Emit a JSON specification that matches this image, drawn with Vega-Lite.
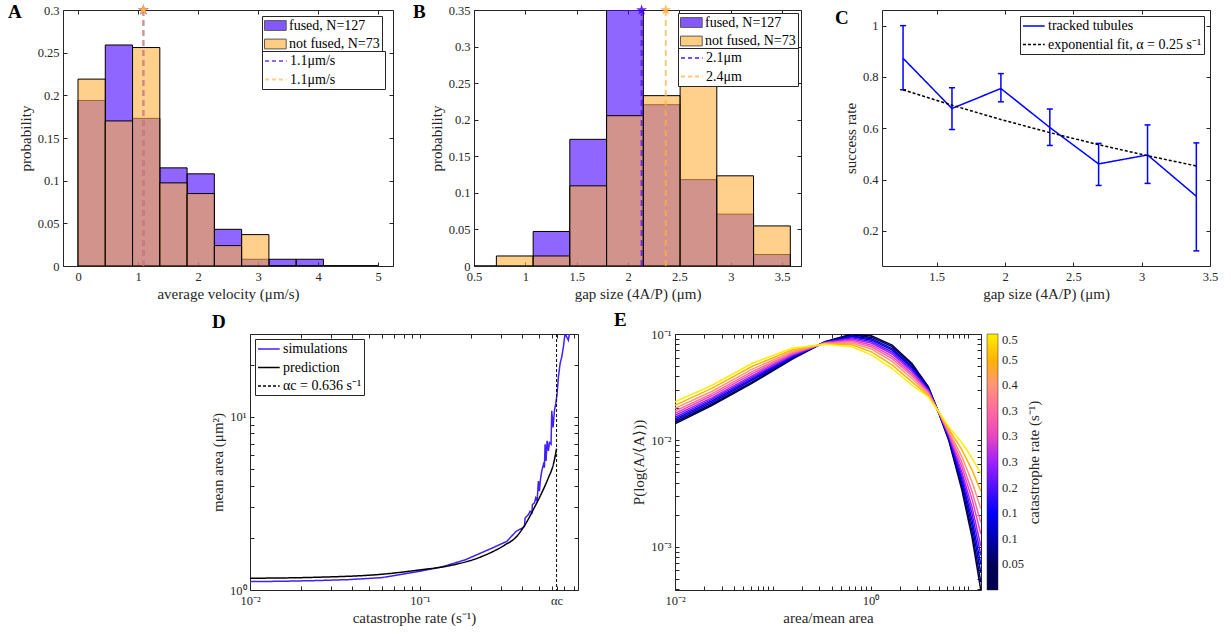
{
  "$schema": "https://vega.github.io/schema/vega-lite/v6.json",
  "padding": {"left": 7, "top": 2, "right": 0, "bottom": 0},
  "config": {
    "font": "Liberation Serif",
    "view": {"stroke": "#262626", "strokeWidth": 1},
    "axis": {"labelFont": "Liberation Serif", "labelFontSize": 12.5, "labelColor": "#262626", "titleFont": "Liberation Serif", "titleFontSize": 15, "titleFontWeight": "normal", "titleColor": "#262626", "domain": false, "tickColor": "#262626", "tickSize": -4, "labelPadding": 8, "grid": false, "labelFlush": false, "labelOverlap": false, "titlePadding": 4, "format": "~g"},
    "legend": {"labelFont": "Liberation Serif", "labelFontSize": 14, "labelColor": "black", "titleFont": "Liberation Serif"},
    "title": {"font": "Liberation Serif", "fontSize": 19, "fontWeight": "bold", "anchor": "start", "frame": "group", "offset": 0, "color": "black", "baseline": "alphabetic"}
  },
  "datasets": {
    "histA": [
      {"item": "fused, N=127", "x0": 0, "x1": 0.4545, "p": 0.194},
      {"item": "fused, N=127", "x0": 0.4545, "x1": 0.9091, "p": 0.259},
      {"item": "fused, N=127", "x0": 0.9091, "x1": 1.3636, "p": 0.173},
      {"item": "fused, N=127", "x0": 1.3636, "x1": 1.8182, "p": 0.115},
      {"item": "fused, N=127", "x0": 1.8182, "x1": 2.2727, "p": 0.108},
      {"item": "fused, N=127", "x0": 2.2727, "x1": 2.7273, "p": 0.043},
      {"item": "fused, N=127", "x0": 2.7273, "x1": 3.1818, "p": 0.0079},
      {"item": "fused, N=127", "x0": 3.1818, "x1": 3.6364, "p": 0.0079},
      {"item": "fused, N=127", "x0": 3.6364, "x1": 4.0909, "p": 0.0079},
      {"item": "fused, N=127", "x0": 4.0909, "x1": 4.5455, "p": 0},
      {"item": "fused, N=127", "x0": 4.5455, "x1": 5.0, "p": 0},
      {"item": "not fused, N=73", "x0": 0, "x1": 0.4545, "p": 0.219},
      {"item": "not fused, N=73", "x0": 0.4545, "x1": 0.9091, "p": 0.170},
      {"item": "not fused, N=73", "x0": 0.9091, "x1": 1.3636, "p": 0.256},
      {"item": "not fused, N=73", "x0": 1.3636, "x1": 1.8182, "p": 0.0974},
      {"item": "not fused, N=73", "x0": 1.8182, "x1": 2.2727, "p": 0.0849},
      {"item": "not fused, N=73", "x0": 2.2727, "x1": 2.7273, "p": 0.0239},
      {"item": "not fused, N=73", "x0": 2.7273, "x1": 3.1818, "p": 0.0368},
      {"item": "not fused, N=73", "x0": 3.1818, "x1": 3.6364, "p": 0},
      {"item": "not fused, N=73", "x0": 3.6364, "x1": 4.0909, "p": 0},
      {"item": "not fused, N=73", "x0": 4.0909, "x1": 4.5455, "p": 0},
      {"item": "not fused, N=73", "x0": 4.5455, "x1": 5.0, "p": 0}
    ],
    "lineA": [
      {"item": "1.1μm/s\u2800 \u2800\u2800 \u2800", "v": 1.09},
      {"item": "1.1μm/s\u2800 \u2800\u2800 \u2800\u200b", "v": 1.09}
    ],
    "histB": [
      {"item": "fused, N=127", "x0": 0.36, "x1": 0.718, "p": 0},
      {"item": "fused, N=127", "x0": 0.718, "x1": 1.076, "p": 0},
      {"item": "fused, N=127", "x0": 1.076, "x1": 1.433, "p": 0.0472},
      {"item": "fused, N=127", "x0": 1.433, "x1": 1.791, "p": 0.1732},
      {"item": "fused, N=127", "x0": 1.791, "x1": 2.149, "p": 0.354},
      {"item": "fused, N=127", "x0": 2.149, "x1": 2.507, "p": 0.2205},
      {"item": "fused, N=127", "x0": 2.507, "x1": 2.864, "p": 0.1181},
      {"item": "fused, N=127", "x0": 2.864, "x1": 3.222, "p": 0.0709},
      {"item": "fused, N=127", "x0": 3.222, "x1": 3.58, "p": 0.0157},
      {"item": "not fused, N=73", "x0": 0.718, "x1": 1.076, "p": 0.0137},
      {"item": "not fused, N=73", "x0": 1.076, "x1": 1.433, "p": 0.0137},
      {"item": "not fused, N=73", "x0": 1.433, "x1": 1.791, "p": 0.1096},
      {"item": "not fused, N=73", "x0": 1.791, "x1": 2.149, "p": 0.2055},
      {"item": "not fused, N=73", "x0": 2.149, "x1": 2.507, "p": 0.2329},
      {"item": "not fused, N=73", "x0": 2.507, "x1": 2.864, "p": 0.2466},
      {"item": "not fused, N=73", "x0": 2.864, "x1": 3.222, "p": 0.1233},
      {"item": "not fused, N=73", "x0": 3.222, "x1": 3.58, "p": 0.0548}
    ],
    "lineB": [
      {"item": "2.1μm\u2800\u2800 \u2800\u2800\u2800", "v": 2.132},
      {"item": "2.4μm\u2800\u2800 \u2800\u2800\u2800", "v": 2.367}
    ],
    "trackC": [
      {"series": "tracked tubules", "x": 1.254, "y": 0.873, "lo": 0.750, "hi": 1.000},
      {"series": "tracked tubules", "x": 1.612, "y": 0.677, "lo": 0.595, "hi": 0.758},
      {"series": "tracked tubules", "x": 1.970, "y": 0.755, "lo": 0.703, "hi": 0.813},
      {"series": "tracked tubules", "x": 2.328, "y": 0.603, "lo": 0.533, "hi": 0.675},
      {"series": "tracked tubules", "x": 2.685, "y": 0.461, "lo": 0.377, "hi": 0.541},
      {"series": "tracked tubules", "x": 3.043, "y": 0.496, "lo": 0.385, "hi": 0.613},
      {"series": "tracked tubules", "x": 3.400, "y": 0.335, "lo": 0.122, "hi": 0.543}
    ],
    "fitC": [
      {"series": "exponential fit, α = 0.25 s⁻¹", "x": 1.254, "y": 0.750},
      {"series": "exponential fit, α = 0.25 s⁻¹", "x": 1.612, "y": 0.690},
      {"series": "exponential fit, α = 0.25 s⁻¹", "x": 1.970, "y": 0.634},
      {"series": "exponential fit, α = 0.25 s⁻¹", "x": 2.328, "y": 0.583},
      {"series": "exponential fit, α = 0.25 s⁻¹", "x": 2.685, "y": 0.536},
      {"series": "exponential fit, α = 0.25 s⁻¹", "x": 3.043, "y": 0.493},
      {"series": "exponential fit, α = 0.25 s⁻¹", "x": 3.400, "y": 0.453}
    ],
    "simD": [
      {"series": "simulations", "x": 0.01, "y": 1.118},
      {"series": "simulations", "x": 0.01549, "y": 1.123},
      {"series": "simulations", "x": 0.02429, "y": 1.133},
      {"series": "simulations", "x": 0.03814, "y": 1.148},
      {"series": "simulations", "x": 0.05981, "y": 1.179},
      {"series": "simulations", "x": 0.1, "y": 1.283},
      {"series": "simulations", "x": 0.1346, "y": 1.36},
      {"series": "simulations", "x": 0.1845, "y": 1.493},
      {"series": "simulations", "x": 0.2708, "y": 1.76},
      {"series": "simulations", "x": 0.3241, "y": 1.908},
      {"series": "simulations", "x": 0.3678, "y": 2.181},
      {"series": "simulations", "x": 0.4006, "y": 2.279},
      {"series": "simulations", "x": 0.4116, "y": 2.33},
      {"series": "simulations", "x": 0.4153, "y": 2.606},
      {"series": "simulations", "x": 0.4248, "y": 2.665},
      {"series": "simulations", "x": 0.4345, "y": 2.724},
      {"series": "simulations", "x": 0.4444, "y": 2.848},
      {"series": "simulations", "x": 0.4545, "y": 2.785},
      {"series": "simulations", "x": 0.4586, "y": 3.112},
      {"series": "simulations", "x": 0.4712, "y": 3.183},
      {"series": "simulations", "x": 0.4797, "y": 3.403},
      {"series": "simulations", "x": 0.4885, "y": 3.254},
      {"series": "simulations", "x": 0.4974, "y": 4.253},
      {"series": "simulations", "x": 0.5042, "y": 3.721},
      {"series": "simulations", "x": 0.5111, "y": 4.348},
      {"series": "simulations", "x": 0.5204, "y": 4.861},
      {"series": "simulations", "x": 0.5321, "y": 5.313},
      {"series": "simulations", "x": 0.5394, "y": 5.081},
      {"series": "simulations", "x": 0.5443, "y": 6.94},
      {"series": "simulations", "x": 0.5517, "y": 5.556},
      {"series": "simulations", "x": 0.5592, "y": 7.256},
      {"series": "simulations", "x": 0.5694, "y": 6.349},
      {"series": "simulations", "x": 0.5772, "y": 7.098},
      {"series": "simulations", "x": 0.5902, "y": 6.94},
      {"series": "simulations", "x": 0.5957, "y": 10.83},
      {"series": "simulations", "x": 0.6065, "y": 8.673},
      {"series": "simulations", "x": 0.6175, "y": 10.83},
      {"series": "simulations", "x": 0.6287, "y": 11.85},
      {"series": "simulations", "x": 0.6402, "y": 13.54},
      {"series": "simulations", "x": 0.6518, "y": 16.91},
      {"series": "simulations", "x": 0.6667, "y": 20.21},
      {"series": "simulations", "x": 0.6819, "y": 22.1},
      {"series": "simulations", "x": 0.6973, "y": 25.26},
      {"series": "simulations", "x": 0.7132, "y": 30.17},
      {"series": "simulations", "x": 0.7461, "y": 27.6},
      {"series": "simulations", "x": 0.7632, "y": 31.6},
      {"series": "simulations", "x": 0.7986, "y": 39.4}
    ],
    "predD": [
      {"series": "prediction", "x": 0.01, "y": 1.169},
      {"series": "prediction", "x": 0.02429, "y": 1.184},
      {"series": "prediction", "x": 0.0598, "y": 1.233},
      {"series": "prediction", "x": 0.1, "y": 1.306},
      {"series": "prediction", "x": 0.1474, "y": 1.378},
      {"series": "prediction", "x": 0.2312, "y": 1.561},
      {"series": "prediction", "x": 0.317, "y": 1.824},
      {"series": "prediction", "x": 0.3628, "y": 1.994},
      {"series": "prediction", "x": 0.4153, "y": 2.383},
      {"series": "prediction", "x": 0.4754, "y": 3.045},
      {"series": "prediction", "x": 0.5204, "y": 3.638},
      {"series": "prediction", "x": 0.5694, "y": 4.446},
      {"series": "prediction", "x": 0.6091, "y": 5.313},
      {"series": "prediction", "x": 0.636, "y": 6.55}
    ],
    "acD": [
      {"series": "αc = 0.636 s⁻¹", "x": 0.636}
    ],
    "curvesE": [
      {"r": 0.01, "x": 0.01, "p": 0.01435}, {"r": 0.01, "x": 0.024, "p": 0.0214}, {"r": 0.01, "x": 0.061, "p": 0.0343}, {"r": 0.01, "x": 0.157, "p": 0.0577}, {"r": 0.01, "x": 0.34, "p": 0.0846}, {"r": 0.01, "x": 0.645, "p": 0.100}, {"r": 0.01, "x": 1.03, "p": 0.0957}, {"r": 0.01, "x": 1.66, "p": 0.0787}, {"r": 0.01, "x": 2.65, "p": 0.0529}, {"r": 0.01, "x": 3.9, "p": 0.0318}, {"r": 0.01, "x": 5.0, "p": 0.0179}, {"r": 0.01, "x": 6.3, "p": 0.0100}, {"r": 0.01, "x": 8.6, "p": 0.00338}, {"r": 0.01, "x": 10.9, "p": 0.00122}, {"r": 0.01, "x": 13.4, "p": 0.00039},
      {"r": 0.05, "x": 0.01, "p": 0.01483}, {"r": 0.05, "x": 0.024, "p": 0.0220}, {"r": 0.05, "x": 0.061, "p": 0.0353}, {"r": 0.05, "x": 0.157, "p": 0.0586}, {"r": 0.05, "x": 0.34, "p": 0.0841}, {"r": 0.05, "x": 0.645, "p": 0.0981}, {"r": 0.05, "x": 1.03, "p": 0.0929}, {"r": 0.05, "x": 1.66, "p": 0.0760}, {"r": 0.05, "x": 2.65, "p": 0.0512}, {"r": 0.05, "x": 3.9, "p": 0.0313}, {"r": 0.05, "x": 5.0, "p": 0.01795}, {"r": 0.05, "x": 6.3, "p": 0.01021}, {"r": 0.05, "x": 8.6, "p": 0.00363}, {"r": 0.05, "x": 10.9, "p": 0.00138}, {"r": 0.05, "x": 13.4, "p": 0.000466},
      {"r": 0.1, "x": 0.01, "p": 0.0154}, {"r": 0.1, "x": 0.024, "p": 0.0228}, {"r": 0.1, "x": 0.061, "p": 0.0366}, {"r": 0.1, "x": 0.157, "p": 0.0598}, {"r": 0.1, "x": 0.34, "p": 0.0838}, {"r": 0.1, "x": 0.645, "p": 0.0959}, {"r": 0.1, "x": 1.03, "p": 0.0899}, {"r": 0.1, "x": 1.66, "p": 0.0729}, {"r": 0.1, "x": 2.65, "p": 0.0492}, {"r": 0.1, "x": 3.9, "p": 0.0308}, {"r": 0.1, "x": 5.0, "p": 0.0180}, {"r": 0.1, "x": 6.3, "p": 0.01045}, {"r": 0.1, "x": 8.6, "p": 0.00394}, {"r": 0.1, "x": 10.9, "p": 0.00158}, {"r": 0.1, "x": 13.4, "p": 0.00057},
      {"r": 0.15, "x": 0.01, "p": 0.0159}, {"r": 0.15, "x": 0.024, "p": 0.0236}, {"r": 0.15, "x": 0.061, "p": 0.0377}, {"r": 0.15, "x": 0.157, "p": 0.0608}, {"r": 0.15, "x": 0.34, "p": 0.0836}, {"r": 0.15, "x": 0.645, "p": 0.0942}, {"r": 0.15, "x": 1.03, "p": 0.0875}, {"r": 0.15, "x": 1.66, "p": 0.0705}, {"r": 0.15, "x": 2.65, "p": 0.0476}, {"r": 0.15, "x": 3.9, "p": 0.0303}, {"r": 0.15, "x": 5.0, "p": 0.0180}, {"r": 0.15, "x": 6.3, "p": 0.01067}, {"r": 0.15, "x": 8.6, "p": 0.00425}, {"r": 0.15, "x": 10.9, "p": 0.00178}, {"r": 0.15, "x": 13.4, "p": 0.000681},
      {"r": 0.2, "x": 0.01, "p": 0.0165}, {"r": 0.2, "x": 0.024, "p": 0.0244}, {"r": 0.2, "x": 0.061, "p": 0.0390}, {"r": 0.2, "x": 0.157, "p": 0.0619}, {"r": 0.2, "x": 0.34, "p": 0.0832}, {"r": 0.2, "x": 0.645, "p": 0.0920}, {"r": 0.2, "x": 1.03, "p": 0.0845}, {"r": 0.2, "x": 1.66, "p": 0.0676}, {"r": 0.2, "x": 2.65, "p": 0.0459}, {"r": 0.2, "x": 3.9, "p": 0.0298}, {"r": 0.2, "x": 5.0, "p": 0.0181}, {"r": 0.2, "x": 6.3, "p": 0.0109}, {"r": 0.2, "x": 8.6, "p": 0.00461}, {"r": 0.2, "x": 10.9, "p": 0.00204}, {"r": 0.2, "x": 13.4, "p": 0.000834},
      {"r": 0.25, "x": 0.01, "p": 0.0172}, {"r": 0.25, "x": 0.024, "p": 0.0252}, {"r": 0.25, "x": 0.061, "p": 0.0404}, {"r": 0.25, "x": 0.157, "p": 0.0632}, {"r": 0.25, "x": 0.34, "p": 0.0828}, {"r": 0.25, "x": 0.645, "p": 0.0899}, {"r": 0.25, "x": 1.03, "p": 0.0818}, {"r": 0.25, "x": 1.66, "p": 0.0649}, {"r": 0.25, "x": 2.65, "p": 0.0442}, {"r": 0.25, "x": 3.9, "p": 0.0292}, {"r": 0.25, "x": 5.0, "p": 0.0181}, {"r": 0.25, "x": 6.3, "p": 0.0112}, {"r": 0.25, "x": 8.6, "p": 0.00501}, {"r": 0.25, "x": 10.9, "p": 0.00234}, {"r": 0.25, "x": 13.4, "p": 0.00102},
      {"r": 0.3, "x": 0.01, "p": 0.0180}, {"r": 0.3, "x": 0.024, "p": 0.0264}, {"r": 0.3, "x": 0.061, "p": 0.0422}, {"r": 0.3, "x": 0.157, "p": 0.0647}, {"r": 0.3, "x": 0.34, "p": 0.0822}, {"r": 0.3, "x": 0.645, "p": 0.0875}, {"r": 0.3, "x": 1.03, "p": 0.0785}, {"r": 0.3, "x": 1.66, "p": 0.0617}, {"r": 0.3, "x": 2.65, "p": 0.0422}, {"r": 0.3, "x": 3.9, "p": 0.0286}, {"r": 0.3, "x": 5.0, "p": 0.0182}, {"r": 0.3, "x": 6.3, "p": 0.0115}, {"r": 0.3, "x": 8.6, "p": 0.00556}, {"r": 0.3, "x": 10.9, "p": 0.00279}, {"r": 0.3, "x": 13.4, "p": 0.00132},
      {"r": 0.35, "x": 0.01, "p": 0.0189}, {"r": 0.35, "x": 0.024, "p": 0.0275}, {"r": 0.35, "x": 0.061, "p": 0.0441}, {"r": 0.35, "x": 0.157, "p": 0.0662}, {"r": 0.35, "x": 0.34, "p": 0.0818}, {"r": 0.35, "x": 0.645, "p": 0.0851}, {"r": 0.35, "x": 1.03, "p": 0.0754}, {"r": 0.35, "x": 1.66, "p": 0.0586}, {"r": 0.35, "x": 2.65, "p": 0.0403}, {"r": 0.35, "x": 3.9, "p": 0.0280}, {"r": 0.35, "x": 5.0, "p": 0.0182}, {"r": 0.35, "x": 6.3, "p": 0.0119}, {"r": 0.35, "x": 8.6, "p": 0.00615}, {"r": 0.35, "x": 10.9, "p": 0.00330}, {"r": 0.35, "x": 13.4, "p": 0.00169},
      {"r": 0.4, "x": 0.01, "p": 0.0200}, {"r": 0.4, "x": 0.024, "p": 0.0290}, {"r": 0.4, "x": 0.061, "p": 0.0465}, {"r": 0.4, "x": 0.157, "p": 0.0682}, {"r": 0.4, "x": 0.34, "p": 0.0813}, {"r": 0.4, "x": 0.645, "p": 0.0824}, {"r": 0.4, "x": 1.03, "p": 0.0718}, {"r": 0.4, "x": 1.66, "p": 0.0552}, {"r": 0.4, "x": 2.65, "p": 0.0380}, {"r": 0.4, "x": 3.9, "p": 0.0273}, {"r": 0.4, "x": 5.0, "p": 0.0183}, {"r": 0.4, "x": 6.3, "p": 0.0123}, {"r": 0.4, "x": 8.6, "p": 0.00697}, {"r": 0.4, "x": 10.9, "p": 0.00406}, {"r": 0.4, "x": 13.4, "p": 0.00229},
      {"r": 0.45, "x": 0.01, "p": 0.0214}, {"r": 0.45, "x": 0.024, "p": 0.0310}, {"r": 0.45, "x": 0.061, "p": 0.0495}, {"r": 0.45, "x": 0.157, "p": 0.0706}, {"r": 0.45, "x": 0.34, "p": 0.0807}, {"r": 0.45, "x": 0.645, "p": 0.0791}, {"r": 0.45, "x": 1.03, "p": 0.0675}, {"r": 0.45, "x": 1.66, "p": 0.0512}, {"r": 0.45, "x": 2.65, "p": 0.0355}, {"r": 0.45, "x": 3.9, "p": 0.0264}, {"r": 0.45, "x": 5.0, "p": 0.0184}, {"r": 0.45, "x": 6.3, "p": 0.0128}, {"r": 0.45, "x": 8.6, "p": 0.00815}, {"r": 0.45, "x": 10.9, "p": 0.00526}, {"r": 0.45, "x": 13.4, "p": 0.00335},
      {"r": 0.5, "x": 0.01, "p": 0.0230}, {"r": 0.5, "x": 0.024, "p": 0.0330}, {"r": 0.5, "x": 0.061, "p": 0.0528}, {"r": 0.5, "x": 0.157, "p": 0.0733}, {"r": 0.5, "x": 0.34, "p": 0.0800}, {"r": 0.5, "x": 0.645, "p": 0.0759}, {"r": 0.5, "x": 1.03, "p": 0.0634}, {"r": 0.5, "x": 1.66, "p": 0.0474}, {"r": 0.5, "x": 2.65, "p": 0.0330}, {"r": 0.5, "x": 3.9, "p": 0.0256}, {"r": 0.5, "x": 5.0, "p": 0.0185}, {"r": 0.5, "x": 6.3, "p": 0.0134}, {"r": 0.5, "x": 8.6, "p": 0.0095}, {"r": 0.5, "x": 10.9, "p": 0.0068}, {"r": 0.5, "x": 13.4, "p": 0.0049}
    ]
  },
  "bounds": "full",
  "spacing": 8,
  "resolve": {"scale": {"color": "independent", "fill": "independent", "stroke": "independent", "strokeDash": "independent"}, "legend": {"color": "independent", "fill": "independent", "stroke": "independent", "strokeDash": "independent"}},
  "vconcat": [
    {
      "bounds": "flush",
      "spacing": 81,
      "resolve": {"scale": {"color": "independent", "fill": "independent", "stroke": "independent", "strokeDash": "independent"}, "legend": {"color": "independent", "fill": "independent", "stroke": "independent", "strokeDash": "independent"}},
      "hconcat": [
        {
          "width": 330, "height": 256,
          "title": {"text": "A", "dx": -55, "dy": 22},
          "resolve": {"axis": {"x": "independent", "y": "independent"}},
          "layer": [
            {
              "data": {"name": "histA"},
              "mark": {"type": "bar", "fillOpacity": 0.6, "stroke": "black", "strokeWidth": 1, "clip": true},
              "encoding": {
                "x": {"field": "x0", "type": "quantitative", "scale": {"domain": [-0.25, 5.25], "nice": false, "zero": false}, "axis": {"title": "average velocity (μm/s)", "values": [0, 1, 2, 3, 4, 5]}},
                "x2": {"field": "x1"},
                "y": {"field": "p", "type": "quantitative", "stack": null, "scale": {"domain": [0, 0.3], "nice": false}, "axis": {"title": "probability", "values": [0, 0.05, 0.1, 0.15, 0.2, 0.25, 0.3]}},
                "y2": {"datum": 0},
                "fill": {
                  "field": "item", "type": "nominal",
                  "scale": {"domain": ["fused, N=127", "not fused, N=73"], "range": ["#4400ff", "#ffb13f"]},
                  "legend": {"orient": "none", "legendX": 199, "legendY": 6, "title": null, "strokeColor": "#262626", "fillColor": "white", "padding": 2, "rowPadding": 3.5, "labelOffset": 10, "symbolSize": 196, "symbolType": "M-1,-0.7H2.1V0.7H-1Z", "symbolStrokeColor": "black", "symbolStrokeWidth": 1, "symbolOpacity": 0.65}
                }
              }
            },
            {
              "data": {"name": "lineA"},
              "mark": {"type": "rule", "strokeDash": [6, 4], "strokeWidth": 2, "opacity": 0.6},
              "encoding": {
                "x": {"field": "v", "type": "quantitative", "axis": null},
                "stroke": {
                  "field": "item", "type": "nominal",
                  "scale": {"range": ["#4400ff", "#ffb13f"]},
                  "legend": {"orient": "none", "legendX": 199, "legendY": 41, "title": null, "strokeColor": "#262626", "fillColor": "white", "padding": 2, "rowPadding": 3.5, "labelOffset": 10, "symbolSize": 196, "symbolType": "M-1,0H2.1", "symbolStrokeWidth": 2, "symbolDash": [4, 3], "symbolOpacity": 0.6}
                }
              }
            },
            {
              "data": {"name": "lineA"},
              "mark": {"type": "point", "shape": "M0,-1L0.2245,-0.309L0.951,-0.309L0.363,0.118L0.588,0.809L0,0.382L-0.588,0.809L-0.363,0.118L-0.951,-0.309L-0.2245,-0.309Z", "filled": true, "size": 130, "opacity": 1, "clip": false},
              "encoding": {
                "x": {"field": "v", "type": "quantitative", "axis": null},
                "y": {"datum": 0.3, "axis": null},
                "color": {"field": "item", "type": "nominal", "scale": {"range": ["#4400ff", "#ffb13f"]}, "legend": null}
              }
            },
            {
              "data": {"values": [{"k": 1}]},
              "mark": {"type": "point", "opacity": 0},
              "encoding": {
                "x": {"datum": 1, "type": "quantitative", "axis": {"orient": "top", "labels": false, "title": null, "values": [0, 1, 2, 3, 4, 5]}},
                "y": {"datum": 0.1, "type": "quantitative", "axis": {"orient": "right", "labels": false, "title": null, "values": [0, 0.05, 0.1, 0.15, 0.2, 0.25, 0.3]}}
              }
            }
          ]
        },
        {
          "width": 327, "height": 256,
          "title": {"text": "B", "dx": -61, "dy": 22},
          "resolve": {"axis": {"x": "independent", "y": "independent"}},
          "layer": [
            {
              "data": {"name": "histB"},
              "mark": {"type": "bar", "fillOpacity": 0.6, "stroke": "black", "strokeWidth": 1, "clip": true},
              "encoding": {
                "x": {"field": "x0", "type": "quantitative", "scale": {"domain": [0.5, 3.684], "nice": false, "zero": false}, "axis": {"title": "gap size (4A/P) (μm)", "values": [0.5, 1, 1.5, 2, 2.5, 3, 3.5]}},
                "x2": {"field": "x1"},
                "y": {"field": "p", "type": "quantitative", "stack": null, "scale": {"domain": [0, 0.35], "nice": false}, "axis": {"title": "probability", "values": [0, 0.05, 0.1, 0.15, 0.2, 0.25, 0.3, 0.35]}},
                "y2": {"datum": 0},
                "fill": {
                  "field": "item", "type": "nominal",
                  "scale": {"domain": ["fused, N=127", "not fused, N=73"], "range": ["#4400ff", "#ffb13f"]},
                  "legend": {"orient": "none", "legendX": 204, "legendY": 3, "title": null, "strokeColor": "#262626", "fillColor": "white", "padding": 2, "rowPadding": 3.5, "labelOffset": 10, "symbolSize": 196, "symbolType": "M-1,-0.7H2.1V0.7H-1Z", "symbolStrokeColor": "black", "symbolStrokeWidth": 1, "symbolOpacity": 0.65}
                }
              }
            },
            {
              "data": {"name": "lineB"},
              "mark": {"type": "rule", "strokeDash": [6, 4], "strokeWidth": 2, "opacity": 0.7},
              "encoding": {
                "x": {"field": "v", "type": "quantitative", "axis": null},
                "stroke": {
                  "field": "item", "type": "nominal",
                  "scale": {"range": ["#4400ff", "#ffb13f"]},
                  "legend": {"orient": "none", "legendX": 204, "legendY": 38, "title": null, "strokeColor": "#262626", "fillColor": "white", "padding": 2, "rowPadding": 3.5, "labelOffset": 10, "symbolSize": 196, "symbolType": "M-1,0H2.1", "symbolStrokeWidth": 2, "symbolDash": [4, 3], "symbolOpacity": 0.7}
                }
              }
            },
            {
              "data": {"name": "lineB"},
              "mark": {"type": "point", "shape": "M0,-1L0.2245,-0.309L0.951,-0.309L0.363,0.118L0.588,0.809L0,0.382L-0.588,0.809L-0.363,0.118L-0.951,-0.309L-0.2245,-0.309Z", "filled": true, "size": 130, "opacity": 0.85, "clip": false},
              "encoding": {
                "x": {"field": "v", "type": "quantitative", "axis": null},
                "y": {"datum": 0.35, "axis": null},
                "color": {"field": "item", "type": "nominal", "scale": {"range": ["#4400ff", "#ffb13f"]}, "legend": null}
              }
            },
            {
              "data": {"values": [{"k": 1}]},
              "mark": {"type": "point", "opacity": 0},
              "encoding": {
                "x": {"datum": 1, "type": "quantitative", "axis": {"orient": "top", "labels": false, "title": null, "values": [0.5, 1, 1.5, 2, 2.5, 3, 3.5]}},
                "y": {"datum": 0.1, "type": "quantitative", "axis": {"orient": "right", "labels": false, "title": null, "values": [0, 0.05, 0.1, 0.15, 0.2, 0.25, 0.3, 0.35]}}
              }
            }
          ]
        },
        {
          "width": 328, "height": 256,
          "title": {"text": "C", "dx": -47, "dy": 22},
          "resolve": {"axis": {"x": "independent", "y": "independent"}},
          "layer": [
            {
              "data": {"name": "trackC"},
              "mark": {"type": "line", "strokeWidth": 1.5},
              "encoding": {
                "x": {"field": "x", "type": "quantitative", "scale": {"domain": [1.1, 3.5], "nice": false, "zero": false}, "axis": {"title": "gap size (4A/P) (μm)", "values": [1.5, 2, 2.5, 3, 3.5]}},
                "y": {"field": "y", "type": "quantitative", "scale": {"domain": [0.063, 1.061], "nice": false, "zero": false}, "axis": {"title": "success rate", "values": [0.2, 0.4, 0.6, 0.8, 1]}},
                "color": {
                  "field": "series", "type": "nominal",
                  "scale": {"domain": ["tracked tubules", "exponential fit, α = 0.25 s⁻¹"], "range": ["#0000ff", "black"]},
                  "legend": {"orient": "top-right", "offset": 6, "title": null, "strokeColor": "#262626", "fillColor": "white", "padding": 2, "rowPadding": 3.5, "labelOffset": 10, "symbolSize": 196, "symbolType": "M-1,0H2.1", "symbolStrokeWidth": 1.5}
                },
                "strokeDash": {"field": "series", "type": "nominal", "scale": {"domain": ["tracked tubules", "exponential fit, α = 0.25 s⁻¹"], "range": [[1, 0], [3, 2]]}}
              }
            },
            {
              "data": {"name": "trackC"},
              "mark": {"type": "rule", "strokeWidth": 1.5, "color": "#0000ff"},
              "encoding": {"x": {"field": "x", "type": "quantitative", "axis": null}, "y": {"field": "lo", "type": "quantitative", "axis": null}, "y2": {"field": "hi"}}
            },
            {
              "data": {"name": "trackC"},
              "mark": {"type": "tick", "orient": "horizontal", "size": 6, "thickness": 1.5, "color": "#0000ff", "opacity": 1},
              "encoding": {"x": {"field": "x", "type": "quantitative", "axis": null}, "y": {"field": "lo", "type": "quantitative", "axis": null}}
            },
            {
              "data": {"name": "trackC"},
              "mark": {"type": "tick", "orient": "horizontal", "size": 6, "thickness": 1.5, "color": "#0000ff", "opacity": 1},
              "encoding": {"x": {"field": "x", "type": "quantitative", "axis": null}, "y": {"field": "hi", "type": "quantitative", "axis": null}}
            },
            {
              "data": {"name": "fitC"},
              "mark": {"type": "line", "strokeWidth": 1.5},
              "encoding": {
                "x": {"field": "x", "type": "quantitative", "axis": null},
                "y": {"field": "y", "type": "quantitative", "axis": null},
                "color": {"field": "series", "type": "nominal"},
                "strokeDash": {"field": "series", "type": "nominal"}
              }
            },
            {
              "data": {"values": [{"k": 1}]},
              "mark": {"type": "point", "opacity": 0},
              "encoding": {
                "x": {"datum": 2, "type": "quantitative", "axis": {"orient": "top", "labels": false, "title": null, "values": [1.5, 2, 2.5, 3, 3.5]}},
                "y": {"datum": 0.5, "type": "quantitative", "axis": {"orient": "right", "labels": false, "title": null, "values": [0.2, 0.4, 0.6, 0.8, 1]}}
              }
            }
          ]
        }
      ]
    },
    {
      "bounds": "flush",
      "spacing": 97,
      "resolve": {"scale": {"color": "independent", "fill": "independent", "stroke": "independent", "strokeDash": "independent"}, "legend": {"color": "independent", "fill": "independent", "stroke": "independent", "strokeDash": "independent"}},
      "hconcat": [
        {
          "width": 90, "height": 256,
          "data": {"values": [{"a": 1}]},
          "mark": {"type": "point", "opacity": 0},
          "view": {"stroke": null}
        },
        {
          "width": 328, "height": 256,
          "title": {"text": "D", "dx": -38, "dy": 8},
          "resolve": {"axis": {"x": "independent", "y": "independent"}},
          "layer": [
            {
              "data": {"name": "simD"},
              "mark": {"type": "line", "strokeWidth": 1.5, "clip": true},
              "encoding": {
                "x": {"field": "x", "type": "quantitative", "scale": {"type": "log", "domain": [0.01, 0.85], "nice": false}, "axis": {"title": "catastrophe rate (s⁻¹)", "values": [0.01, 0.02, 0.03, 0.04, 0.05, 0.06, 0.07, 0.08, 0.09, 0.1, 0.2, 0.3, 0.4, 0.5, 0.6, 0.636, 0.7, 0.8], "labelExpr": "datum.value == 0.01 ? '10⁻²' : datum.value == 0.1 ? '10⁻¹' : datum.value == 0.636 ? 'αc' : ''"}},
                "y": {"field": "y", "type": "quantitative", "scale": {"type": "log", "domain": [1, 30], "nice": false}, "axis": {"title": "mean area (μm²)", "values": [1, 2, 3, 4, 5, 6, 7, 8, 9, 10, 20, 30], "labelExpr": "datum.value == 1 ? '10⁰' : datum.value == 10 ? '10¹' : ''"}},
                "color": {
                  "field": "series", "type": "nominal",
                  "scale": {"domain": ["simulations", "prediction", "αc = 0.636 s⁻¹"], "range": ["#4020ff", "black", "black"]},
                  "legend": {"orient": "top-left", "offset": 5, "title": null, "strokeColor": "#262626", "fillColor": "white", "padding": 2, "rowPadding": 3.5, "labelOffset": 10, "symbolSize": 196, "symbolType": "M-1,0H2.1", "symbolStrokeWidth": 1.5}
                },
                "strokeDash": {"field": "series", "type": "nominal", "scale": {"domain": ["simulations", "prediction", "αc = 0.636 s⁻¹"], "range": [[1, 0], [1, 0], [3, 2]]}}
              }
            },
            {
              "data": {"name": "predD"},
              "mark": {"type": "line", "strokeWidth": 1.5, "interpolate": "monotone", "clip": true},
              "encoding": {
                "x": {"field": "x", "type": "quantitative", "axis": null},
                "y": {"field": "y", "type": "quantitative", "axis": null},
                "color": {"field": "series", "type": "nominal"},
                "strokeDash": {"field": "series", "type": "nominal"}
              }
            },
            {
              "data": {"name": "acD"},
              "mark": {"type": "rule", "strokeWidth": 1},
              "encoding": {
                "x": {"field": "x", "type": "quantitative", "axis": null},
                "color": {"field": "series", "type": "nominal"},
                "strokeDash": {"field": "series", "type": "nominal"}
              }
            },
            {
              "data": {"values": [{"k": 1}]},
              "mark": {"type": "point", "opacity": 0},
              "encoding": {
                "x": {"datum": 0.1, "type": "quantitative", "axis": {"orient": "top", "labels": false, "title": null, "values": [0.01, 0.02, 0.03, 0.04, 0.05, 0.06, 0.07, 0.08, 0.09, 0.1, 0.2, 0.3, 0.4, 0.5, 0.6, 0.636, 0.7, 0.8]}},
                "y": {"datum": 2, "type": "quantitative", "axis": {"orient": "right", "labels": false, "title": null, "values": [1, 2, 3, 4, 5, 6, 7, 8, 9, 10, 20, 30]}}
              }
            }
          ]
        },
        {
          "width": 306, "height": 256,
          "title": {"text": "E", "dx": -61, "dy": 6},
          "resolve": {"axis": {"x": "independent", "y": "independent"}},
          "layer": [
            {
              "data": {"name": "curvesE"},
              "mark": {"type": "line", "strokeWidth": 1.5, "clip": true},
              "encoding": {
                "x": {"field": "x", "type": "quantitative", "scale": {"type": "log", "domain": [0.01, 13.45], "nice": false}, "axis": {"title": "area/mean area", "values": [0.01, 0.02, 0.03, 0.04, 0.05, 0.06, 0.07, 0.08, 0.09, 0.1, 0.2, 0.3, 0.4, 0.5, 0.6, 0.7, 0.8, 0.9, 1, 2, 3, 4, 5, 6, 7, 8, 9, 10], "labelExpr": "datum.value == 0.01 ? '10⁻²' : datum.value == 1 ? '10⁰' : ''"}},
                "y": {"field": "p", "type": "quantitative", "scale": {"type": "log", "domain": [0.000393, 0.1], "nice": false}, "axis": {"title": "P(log(A/⟨A⟩))", "values": [0.0004, 0.0005, 0.0006, 0.0007, 0.0008, 0.0009, 0.001, 0.002, 0.003, 0.004, 0.005, 0.006, 0.007, 0.008, 0.009, 0.01, 0.02, 0.03, 0.04, 0.05, 0.06, 0.07, 0.08, 0.09, 0.1], "labelExpr": "datum.value == 0.001 ? '10⁻³' : datum.value == 0.01 ? '10⁻²' : datum.value == 0.1 ? '10⁻¹' : ''"}},
                "detail": {"field": "r", "type": "nominal"},
                "color": {
                  "field": "r", "type": "quantitative",
                  "scale": {"domain": [0, 0.05, 0.1, 0.15, 0.2, 0.25, 0.275, 0.3, 0.35, 0.405, 0.415, 0.45, 0.5], "range": ["#000000", "#00005a", "#0000b0", "#0000ff", "#5010ff", "#a020ff", "#c828e6", "#e845c0", "#ff6aa0", "#ff9a78", "#ffa510", "#ffb400", "#ffee00"]},
                  "legend": {
                    "orient": "none", "legendX": 312, "legendY": 0, "direction": "vertical", "gradientLength": 256, "gradientThickness": 11,
                    "values": [0.05, 0.1, 0.15, 0.2, 0.25, 0.3, 0.35, 0.4, 0.45, 0.5], "format": "~g", "title": null,
                    "labelFontSize": 12.5, "labelColor": "#262626", "labelOffset": 4, "labelOverlap": false,
                    "gradientStrokeColor": "#262626", "gradientStrokeWidth": 0.5
                  }
                }
              }
            },
            {
              "data": {"values": [{"k": 1}]},
              "mark": {"type": "point", "opacity": 0},
              "encoding": {
                "x": {"datum": 1, "type": "quantitative", "axis": {"orient": "top", "labels": false, "title": null, "values": [0.01, 0.02, 0.03, 0.04, 0.05, 0.06, 0.07, 0.08, 0.09, 0.1, 0.2, 0.3, 0.4, 0.5, 0.6, 0.7, 0.8, 0.9, 1, 2, 3, 4, 5, 6, 7, 8, 9, 10]}},
                "y": {"datum": 0.01, "type": "quantitative", "axis": {"orient": "right", "labels": false, "title": "catastrophe rate (s⁻¹)", "titleAngle": 270, "titleBaseline": "top", "titlePadding": 45, "values": [0.0004, 0.0005, 0.0006, 0.0007, 0.0008, 0.0009, 0.001, 0.002, 0.003, 0.004, 0.005, 0.006, 0.007, 0.008, 0.009, 0.01, 0.02, 0.03, 0.04, 0.05, 0.06, 0.07, 0.08, 0.09, 0.1]}}
              }
            }
          ]
        }
      ]
    }
  ]
}
